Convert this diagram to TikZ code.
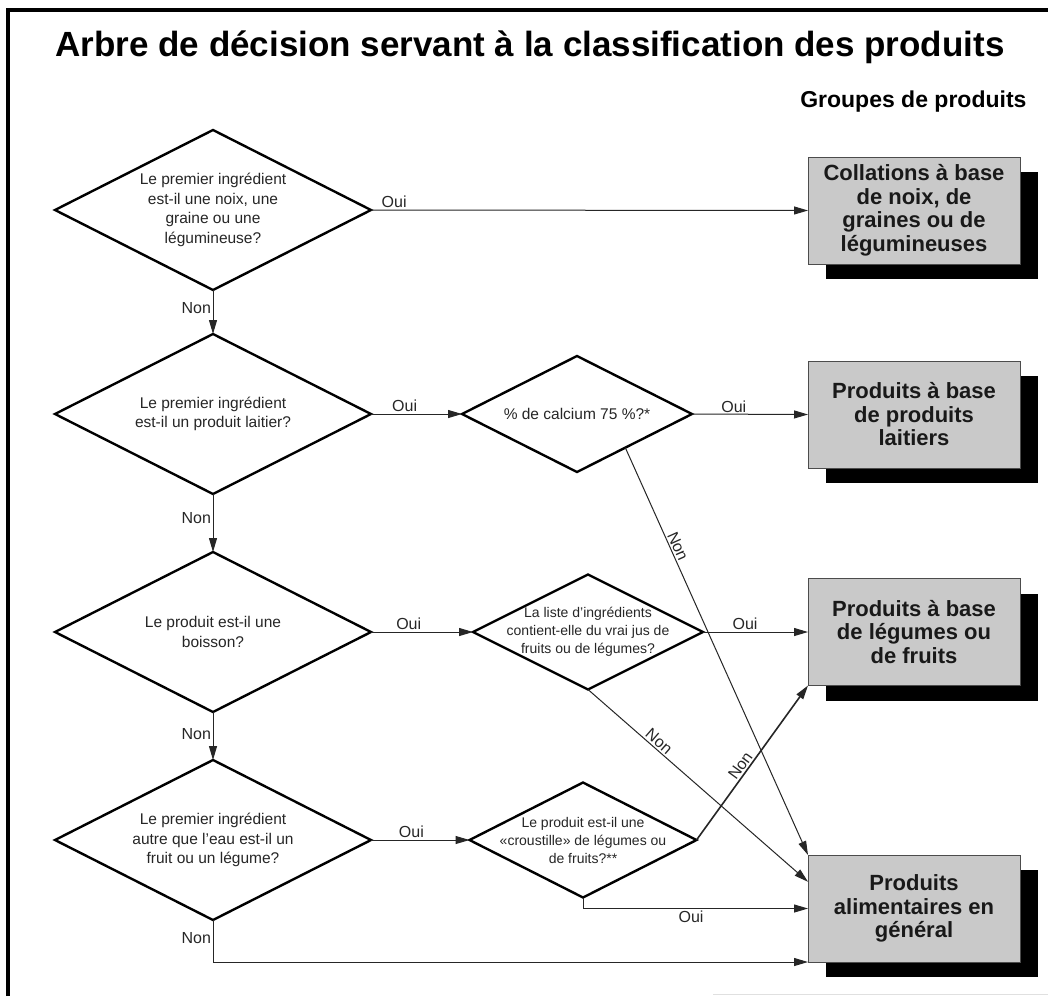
\documentclass[tikz,border=0pt]{standalone}
\usepackage{fontspec}
\setmainfont{Liberation Sans}
\usetikzlibrary{shapes.geometric,arrows.meta,shadows,calc}
\begin{document}
\begin{tikzpicture}[x=1pt,y=-1pt,
  diam/.style={diamond, draw=black, line width=2.4pt, inner sep=0pt, outer sep=0pt, minimum width=316pt, minimum height=160pt},
  sdiam/.style={diamond, draw=black, line width=2.4pt, inner sep=0pt, outer sep=0pt, minimum width=230pt, minimum height=116pt},
  dtext/.style={align=center, text=black!85, inner sep=0pt, font=\fontsize{15.5}{19.5}\selectfont},
  stext/.style={align=center, text=black!85, inner sep=0pt, font=\fontsize{14}{18}\selectfont},
  grp/.style={rectangle, draw=black!70, line width=0.8pt, fill=black!21, minimum width=212pt, minimum height=107pt, inner sep=0pt, outer sep=0pt, align=center, text=black!90, font=\fontsize{22}{23.5}\selectfont\bfseries, drop shadow={shadow xshift=18pt, shadow yshift=-15pt, opacity=1, fill=black}},
  conn/.style={draw=black!85, line width=1pt, -{Triangle[length=14pt,width=8pt]}},
  lab/.style={font=\fontsize{16}{18}\selectfont, text=black!85, inner sep=1.5pt}
]
\useasboundingbox (0,0) rectangle (1048,996);
\fill[white] (0,0) rectangle (1048,996);
% frame
\draw[line width=3.5pt] (8,996) -- (8,10) -- (1048,10);
\draw[black!12, line width=1pt] (713,994) -- (1048,994);

\node[font=\fontsize{35}{40}\selectfont\bfseries] (title) at (530,47) {Arbre de décision servant à la classification des produits};
\node[anchor=east, font=\fontsize{23}{26}\selectfont\bfseries] (groupes) at (1030,102) {Groupes de produits};

% decision diamonds
\node[diam] (d1) at (213,210) {};
\node[diam] (d2) at (213,414) {};
\node[diam] (d4) at (213,632) {};
\node[diam] (d5) at (213,840) {};
\node[sdiam] (d3) at (577,414) {};
\node[sdiam, minimum height=115pt] (d6) at (588,632) {};
\node[sdiam, minimum width=227pt, minimum height=115pt] (d7) at (583,840) {};

\node[dtext] (t1) at (d1) {Le premier ingrédient\\est-il une noix, une\\graine ou une\\légumineuse?};
\node[dtext] (t2) at (d2) {Le premier ingrédient\\est-il un produit laitier?};
\node[dtext] (t4) at (d4) {Le produit est-il une\\boisson?};
\node[dtext] (t5) at (d5) {Le premier ingrédient\\autre que l’eau est-il un\\fruit ou un légume?};
\node[dtext] (t3) at (d3) {\% de calcium 75 \%?*};
\node[stext] (t6) at (d6) {La liste d’ingrédients\\contient-elle du vrai jus de\\fruits ou de légumes?};
\node[stext] (t7) at (d7) {Le produit est-il une\\«croustille» de légumes ou\\de fruits?**};

% product groups
\node[grp] (b1) at (914,210.5) {Collations à base\\de noix, de\\graines ou de\\légumineuses};
\node[grp] (b2) at (914,414.5) {Produits à base\\de produits\\laitiers};
\node[grp] (b3) at (914,632) {Produits à base\\de légumes ou\\de fruits};
\node[grp] (b4) at (914,908.5) {Produits\\alimentaires en\\général};

% connectors
\draw[conn] (d1.east) -- node[lab, pos=0.02, anchor=south west] {Oui} (b1.west);
\draw[conn] (d1.south) -- node[lab, left, pos=0.4] {Non} (d2.north);
\draw[conn] (d2.east) -- node[lab, above, pos=0.37] {Oui} (d3.west);
\draw[conn] (d3.east) -- node[lab, above, pos=0.36] {Oui} (b2.west);
\draw[conn] ($(d3.east)!0.58!(d3.south)$) -- node[lab, sloped, above, pos=0.25] {Non} (b4.north west);
\draw[conn] (d2.south) -- node[lab, left, pos=0.41] {Non} (d4.north);
\draw[conn] (d4.east) -- node[lab, above, pos=0.37] {Oui} (d6.west);
\draw[conn] (d6.east) -- node[lab, above, pos=0.4] {Oui} (b3.west);
\draw[conn] (d6.south) -- node[lab, sloped, above, pos=0.3] {Non} ($(b4.north west)!0.25!(b4.south west)$);
\draw[conn] (d4.south) -- node[lab, left, pos=0.47] {Non} (d5.north);
\draw[conn] (d5.east) -- node[lab, above, pos=0.41] {Oui} (d7.west);
\draw[conn] (d7.south) |- node[lab, below, pos=0.74] {Oui} (b4.west);
\draw[conn, line width=1.6pt] (d7.east) -- node[lab, sloped, above, pos=0.45] {Non} (b3.south west);
\draw[conn] (d5.south) |- node[lab, left, pos=0.21] {Non} (b4.south west);
\end{tikzpicture}
\end{document}
